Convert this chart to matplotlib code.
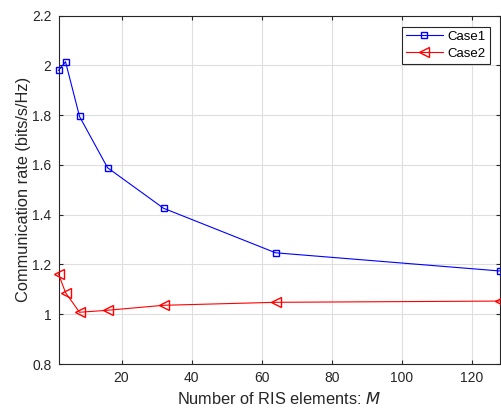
import numpy as np
import matplotlib
matplotlib.use('Agg')
import matplotlib.pyplot as plt

plt.rcParams['font.family'] = ['Liberation Sans', 'DejaVu Sans']

# Number of RIS elements and achieved rates
M = [2, 4, 8, 16, 32, 64, 128]
case1 = [1.980, 2.015, 1.795, 1.589, 1.426, 1.247, 1.174]
case2 = [1.162, 1.087, 1.008, 1.016, 1.036, 1.048, 1.053]

fig = plt.figure(figsize=(5.01, 4.09), dpi=100)
ax = fig.add_axes([0.1168, 0.110, 0.8806, 0.8516])

ax.plot(M, case1, color='b', marker='s', markersize=5, markerfacecolor='none',
        linewidth=0.8, label='Case1', clip_on=False, zorder=3)
ax.plot(M, case2, color='r', marker='<', markersize=7, markerfacecolor='none',
        linewidth=0.8, label='Case2', clip_on=False, zorder=3)

ax.set_xlim(2, 128)
ax.set_ylim(0.8, 2.2)
ax.set_xticks([20, 40, 60, 80, 100, 120])
ax.set_yticks([0.8, 1, 1.2, 1.4, 1.6, 1.8, 2, 2.2])
ax.set_yticklabels(['0.8', '1', '1.2', '1.4', '1.6', '1.8', '2', '2.2'])

ax.grid(True, color='#dedede', linewidth=0.8)
ax.set_axisbelow(True)
ax.tick_params(direction='in', top=True, right=True, labelsize=10, length=3,
               colors='#262626', pad=5)
for s in ax.spines.values():
    s.set_color('#262626')
    s.set_linewidth(0.8)

ax.set_xlabel('Number of RIS elements: $M$', fontsize=11.8, color='#262626',
              labelpad=4)
ax.set_ylabel('Communication rate (bits/s/Hz)', fontsize=11.8, color='#262626',
              labelpad=1)

leg = ax.legend(loc='upper right', bbox_to_anchor=(0.978, 0.968), borderaxespad=0,
                fontsize=9.5, fancybox=False, edgecolor='#262626', framealpha=1,
                borderpad=0.3, handlelength=2.8, labelspacing=0.35, handletextpad=0.4)
leg.get_frame().set_linewidth(0.8)

fig.savefig('out.png', dpi=100)
